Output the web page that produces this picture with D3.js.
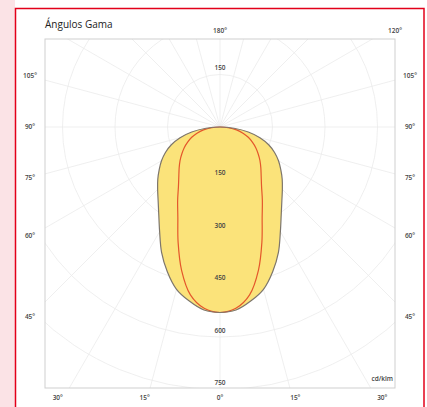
<!DOCTYPE html>
<meta charset="utf-8">
<script src="https://d3js.org/d3.v7.min.js"></script>
<style>
  body { margin: 0; background: #fff; }
  text { font-family: "Open Sans", sans-serif; }
</style>
<div id="my_dataviz"></div>
<script>

  // gamma angles (deg) and intensities (cd/klm)
  var gammaAngles = [0, 5, 10, 15, 20, 25, 30, 35, 40, 45, 50, 55, 60, 65, 70, 75, 80, 85, 90];
  var intensityC0 = [530, 525, 505, 480, 440, 395, 345, 305, 275, 252, 232, 212, 193, 172, 148, 118, 82, 40, 0];
  var intensityC90 = [530, 520, 487, 424, 350, 285, 242, 207, 183, 165, 149, 133, 118, 102, 86, 68, 48, 24, 0];

  var ringValues = [150, 300, 450, 600, 750];
  var ringLabelsTop = [150];
  var angleTicks = [0, 15, 30, 45, 60, 75, 90, 105, 120, 180];

  var W = 427, H = 407;
  var cx = 220, cy = 127;
  var box = { x0: 45, y0: 39, x1: 395, y1: 388 };

  var svg = d3.select("#my_dataviz")
    .append("svg")
    .attr("width", W)
    .attr("height", H);

  // page edge and red frame
  svg.append("rect").attr("x", 0).attr("y", 0).attr("width", 15).attr("height", H).style("fill", "#fbe3e6");
  svg.append("rect").attr("x", 15).attr("y", 0).attr("width", W - 15).attr("height", H).style("fill", "#fff");

  var r = d3.scaleLinear().domain([0, 750]).range([0, 262.5]);

  svg.append("clipPath").attr("id", "plotclip")
    .append("rect")
    .attr("x", box.x0).attr("y", box.y0)
    .attr("width", box.x1 - box.x0).attr("height", box.y1 - box.y0);

  var g = svg.append("g").attr("clip-path", "url(#plotclip)");
  var c = g.append("g").attr("transform", "translate(" + cx + "," + cy + ")");

  // grid circles
  c.selectAll(".ring")
    .data(d3.range(150, 1500, 150))
    .enter()
    .append("circle")
    .attr("r", function (d) { return r(d); })
    .style("fill", "none")
    .style("stroke", "#ebebeb")
    .style("stroke-width", 0.8);

  // grid spokes every 15 deg
  c.selectAll(".spoke")
    .data(d3.range(0, 360, 15))
    .enter()
    .append("line")
    .attr("x1", 0).attr("y1", 0)
    .attr("x2", function (d) { return 600 * Math.sin(d * Math.PI / 180); })
    .attr("y2", function (d) { return 600 * Math.cos(d * Math.PI / 180); })
    .style("stroke", "#ebebeb")
    .style("stroke-width", 0.8);

  // build symmetric curve points from -90 to 85
  function curvePoints(values) {
    var pts = [];
    for (var i = gammaAngles.length - 1; i > 0; i--) pts.push([-gammaAngles[i], values[i]]);
    for (var j = 0; j < gammaAngles.length - 1; j++) pts.push([gammaAngles[j], values[j]]);
    return pts;
  }

  var radial = d3.lineRadial()
    .angle(function (d) { return Math.PI - d[0] * Math.PI / 180; })
    .radius(function (d) { return r(d[1]); })
    .curve(d3.curveCatmullRomClosed);

  c.append("path")
    .attr("d", radial(curvePoints(intensityC0)))
    .style("fill", "#fbe37a")
    .style("stroke", "none");

  c.append("path")
    .attr("d", radial(curvePoints(intensityC90)))
    .style("fill", "none")
    .style("stroke", "#e4572b")
    .style("stroke-width", 1.2);

  c.append("path")
    .attr("d", radial(curvePoints(intensityC0)))
    .style("fill", "none")
    .style("stroke", "#7d766c")
    .style("stroke-width", 1.2);

  // ring value labels
  svg.selectAll(".rlab")
    .data(ringValues)
    .enter()
    .append("text")
    .attr("x", cx)
    .attr("y", function (d) { return cy + r(d) - 6; })
    .attr("text-anchor", "middle")
    .attr("dominant-baseline", "middle")
    .style("font-size", "6.5px")
    .style("font-weight", 600)
    .style("fill", "#444")
    .text(function (d) { return d; });

  svg.selectAll(".rlabtop")
    .data(ringLabelsTop)
    .enter()
    .append("text")
    .attr("x", cx)
    .attr("y", function (d) { return cy - r(d) - 6; })
    .attr("text-anchor", "middle")
    .attr("dominant-baseline", "middle")
    .style("font-size", "6.5px")
    .style("font-weight", 600)
    .style("fill", "#444")
    .text(function (d) { return d; });

  // angle labels around the frame
  var sideDist = 190, bottomDist = 281, topDist = 96;
  function labelPos(a, s) {
    var t = a * Math.PI / 180;
    var dx = Math.sin(t), dy = Math.cos(t);
    var kSide = dx > 1e-6 ? sideDist / dx : Infinity;
    var kBot = dy > 1e-6 ? bottomDist / dy : Infinity;
    var kTop = dy < -1e-6 ? topDist / -dy : Infinity;
    var k = Math.min(kSide, kBot, kTop);
    var x = cx + s * k * dx;
    var y = cy + k * dy;
    if (k === kBot) y = 398;
    if (k === kTop) { y = 31; if (k * dx > 150) x = cx + s * 175; }
    if (k === kSide) x = cx + s * sideDist;
    return [x, y];
  }

  var angleLabels = [];
  angleTicks.forEach(function (a) {
    angleLabels.push({ a: a, s: 1 });
    if (a !== 0 && a !== 180 && a !== 120) angleLabels.push({ a: a, s: -1 });
  });

  svg.selectAll(".alab")
    .data(angleLabels)
    .enter()
    .append("text")
    .attr("x", function (d) { return labelPos(d.a, d.s)[0]; })
    .attr("y", function (d) { return labelPos(d.a, d.s)[1]; })
    .attr("text-anchor", "middle")
    .attr("dominant-baseline", "middle")
    .style("font-size", "6.5px")
    .style("font-weight", 600)
    .style("fill", "#444")
    .text(function (d) { return d.a + "°"; });

  svg.append("text")
    .attr("x", 393)
    .attr("y", 379)
    .attr("text-anchor", "end")
    .attr("dominant-baseline", "middle")
    .style("font-size", "6.5px")
    .style("font-weight", 600)
    .style("fill", "#444")
    .text("cd/klm");

  // plot box border
  svg.append("rect")
    .attr("x", box.x0).attr("y", box.y0)
    .attr("width", box.x1 - box.x0).attr("height", box.y1 - box.y0)
    .style("fill", "none")
    .style("stroke", "#cfcfcf")
    .style("stroke-width", 1);

  // title
  svg.append("text")
    .attr("x", 45)
    .attr("y", 28)
    .style("font-size", "10px")
    .style("fill", "#222")
    .text("Ángulos Gama");

  // red frame
  svg.append("rect")
    .attr("x", 15.5).attr("y", 8.5)
    .attr("width", 408.5).attr("height", 420)
    .style("fill", "none")
    .style("stroke", "#e2001a")
    .style("stroke-width", 1.5);

</script>
